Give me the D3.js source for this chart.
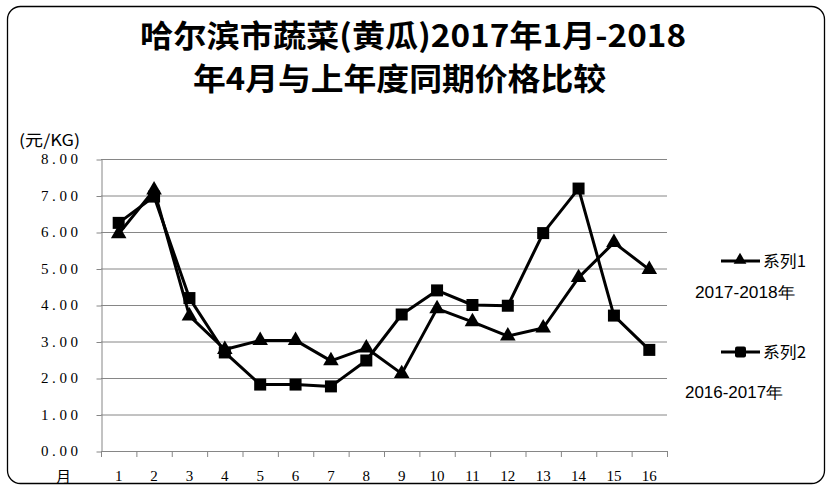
<!DOCTYPE html>
<html><head><meta charset="utf-8">
<script src="https://cdn.jsdelivr.net/npm/d3@7"></script>
<style>html,body{margin:0;padding:0;background:#fff;}svg{display:block;}</style>
</head><body>
<svg id="c" width="834" height="492"></svg>
<script>
const categories = ["1","2","3","4","5","6","7","8","9","10","11","12","13","14","15","16"];
const series1 = [5.95,7.15,3.70,2.78,3.03,3.03,2.47,2.82,2.12,3.90,3.54,3.15,3.37,4.75,5.71,4.97];
const series2 = [6.25,6.97,4.19,2.70,1.82,1.82,1.77,2.48,3.74,4.40,4.00,3.98,5.97,7.19,3.71,2.77];
const yTicks = [0,1,2,3,4,5,6,7,8];
const titleLines = ["哈尔滨市蔬菜(黄瓜)2017年1月-2018","年4月与上年度同期价格比较"];
const seriesNames = ["系列1","系列2"];
const seriesNotes = ["2017-2018年","2016-2017年"];

const svg = d3.select("#c");
svg.append("rect").attr("x",7.5).attr("y",6.5).attr("width",817).attr("height",477)
  .attr("rx",13).attr("fill","#fff").attr("stroke","#000").attr("stroke-width",1.3);

const titleW = [546, 413], titleX = [413, 399.5], titleY = [47, 90];
titleLines.forEach((t,i)=>{
  svg.append("text").attr("x",titleX[i]).attr("y",titleY[i]).attr("text-anchor","middle")
    .attr("font-family","'Noto Sans CJK SC'").attr("font-weight","bold").attr("font-size",31)
    .attr("textLength",titleW[i]).attr("lengthAdjust","spacingAndGlyphs").text(t);
});

const x = d3.scaleBand().domain(categories).range([101,667]).padding(0);
const y = d3.scaleLinear().domain([0,8]).range([451,159]);
const cx = d => x(d) + x.bandwidth()/2;

svg.append("g").selectAll("line").data(yTicks.filter(v=>v>0)).join("line")
  .attr("x1",101).attr("x2",667).attr("y1",d=>y(d)+0.5).attr("y2",d=>y(d)+0.5)
  .attr("stroke","#868686").attr("stroke-width",1);

const ya = svg.append("g").attr("transform","translate(101.5,0.5)")
  .call(d3.axisLeft(y).tickValues(yTicks).tickSize(5).tickSizeOuter(0).tickFormat(()=>""));
ya.selectAll("path,line").attr("stroke","#868686");
svg.append("g").selectAll("text").data(yTicks).join("text")
  .attr("x",78).attr("y",d=>y(d)+5).attr("text-anchor","end")
  .attr("font-family","'Liberation Serif'").attr("font-size",15)
  .attr("textLength",37).attr("lengthAdjust","spacing")
  .text(d=>d3.format(".2f")(d));

const edges = categories.map(c=>x(c)).concat([x.range()[1]]);
const xg = svg.append("g");
xg.append("line").attr("x1",101).attr("x2",667).attr("y1",451.5).attr("y2",451.5).attr("stroke","#868686");
xg.selectAll("line.t").data(edges).join("line").attr("class","t")
  .attr("x1",d=>d+0.5).attr("x2",d=>d+0.5).attr("y1",451).attr("y2",457).attr("stroke","#868686");
xg.selectAll("text").data(categories).join("text")
  .attr("x",d=>cx(d)).attr("y",481).attr("text-anchor","middle")
  .attr("font-family","'Liberation Serif'").attr("font-size",15).text(d=>d);

svg.append("text").attr("x",19).attr("y",146).attr("font-family","'Noto Sans CJK SC'")
  .attr("font-size",16).attr("textLength",61).attr("lengthAdjust","spacingAndGlyphs").text("(元/KG)");
svg.append("text").attr("x",56).attr("y",482).attr("font-family","'Noto Sans CJK SC'")
  .attr("font-size",15).text("月");

const line = d3.line().x((d,i)=>cx(categories[i])).y(d=>y(d));
[series1, series2].forEach(s=>{
  svg.append("path").datum(s).attr("d",line).attr("fill","none")
    .attr("stroke","#000").attr("stroke-width",3).attr("stroke-linejoin","round");
});
const tri = d3.symbol().type(d3.symbolTriangle).size(105);
svg.append("g").selectAll("path").data(series1).join("path")
  .attr("d",tri).attr("transform",(d,i)=>`translate(${cx(categories[i])},${y(d)})`).attr("fill","#000");
svg.append("g").selectAll("rect").data(series2).join("rect")
  .attr("x",(d,i)=>cx(categories[i])-6).attr("y",d=>y(d)-6).attr("width",12).attr("height",12).attr("fill","#000");

const legY = [261, 352], noteX = [695, 685], noteY = [298, 398];
seriesNames.forEach((n,i)=>{
  const g = svg.append("g");
  g.append("line").attr("x1",721).attr("x2",760).attr("y1",legY[i]).attr("y2",legY[i]).attr("stroke","#000").attr("stroke-width",3);
  if(i===0) g.append("path").attr("d",d3.symbol().type(d3.symbolTriangle).size(70)).attr("transform",`translate(740,${legY[i]-1})`);
  else g.append("rect").attr("x",735).attr("y",legY[i]-5.5).attr("width",11).attr("height",11).attr("rx",2);
  g.append("text").attr("x",763).attr("y",legY[i]+6).attr("font-family","'Noto Sans CJK SC'").attr("font-size",16)
    .attr("textLength",43).attr("lengthAdjust","spacingAndGlyphs").text(n);
  svg.append("text").attr("x",noteX[i]).attr("y",noteY[i]).attr("font-family","'Liberation Sans'")
    .attr("font-size",16).attr("textLength",i===0?100:98).attr("lengthAdjust","spacingAndGlyphs").text(seriesNotes[i]);
});
</script>
</body></html>
